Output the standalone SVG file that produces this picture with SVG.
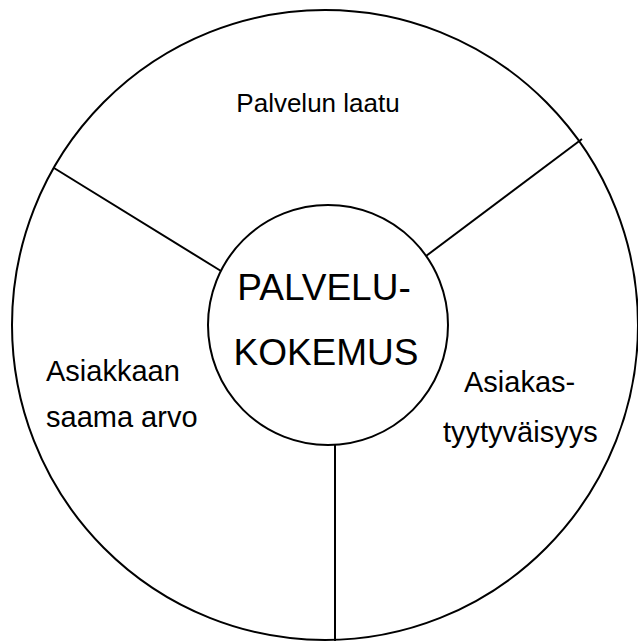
<svg xmlns="http://www.w3.org/2000/svg" width="638" height="641" viewBox="0 0 638 641">
<style>
.ln{fill:none;stroke:#000;stroke-width:2}
.t{font-family:"Liberation Sans",Arial,sans-serif;fill:#000}
.lb{font-size:29px}
.ct{font-size:37px;text-anchor:middle}
</style>
<rect width="638" height="641" fill="#fff"/>
<g id="outer"><ellipse class="ln" cx="325" cy="325" rx="313" ry="315"/></g>
<g id="connectors">
<line class="ln" x1="54" y1="168" x2="221" y2="271"/>
<line class="ln" x1="582" y1="139" x2="426" y2="256"/>
<line class="ln" x1="335" y1="445" x2="335" y2="641"/>
</g>
<g id="center"><circle class="ln" cx="328" cy="325" r="120" fill="#fff"/>
<text class="t ct" x="324" y="300">PALVELU-</text>
<text class="t ct" x="326" y="365">KOKEMUS</text></g>
<g id="laatu"><text class="t" x="318" y="112" font-size="26" text-anchor="middle">Palvelun laatu</text></g>
<g id="arvo"><text class="t lb" x="46" y="381">Asiakkaan</text>
<text class="t lb" x="46" y="427">saama arvo</text></g>
<g id="tyytyvaisyys"><text class="t lb" x="464" y="392">Asiakas-</text>
<text class="t lb" x="443" y="442">tyytyväisyys</text></g>
</svg>
